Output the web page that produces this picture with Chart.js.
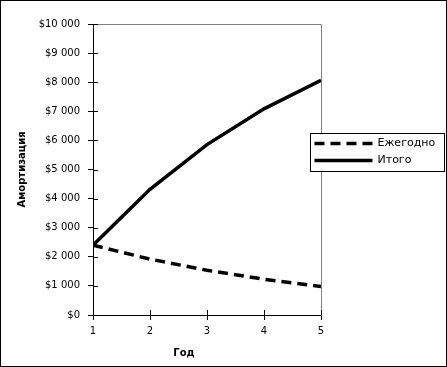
<!DOCTYPE html>
<html><head><meta charset="utf-8">
<script src="https://cdn.jsdelivr.net/npm/chart.js@4/dist/chart.umd.min.js"></script>
<style>html,body{margin:0;padding:0;background:#fff}</style></head>
<body><canvas id="c" width="447" height="367"></canvas>
<script>
const years = [1, 2, 3, 4, 5];
const annual = [2400, 1920, 1536, 1229, 983];
const total = [2400, 4320, 5856, 7085, 8068];
const seriesNames = ['Ежегодно', 'Итого'];
const yTitle = 'Амортизация';
const xTitle = 'Год';
const yMin = 0, yMax = 10000, yStep = 1000;

function money(v){ return '$' + String(v).replace(/\B(?=(\d{3})+(?!\d))/g, ' '); }

Chart.defaults.font.family = '"DejaVu Sans", Verdana, sans-serif';
Chart.defaults.font.size = 10;
Chart.defaults.color = '#000';

const frame = {
  id: 'frame',
  beforeDraw(chart){
    const c = chart.ctx; c.save(); c.fillStyle = '#fff'; c.fillRect(0,0,chart.width,chart.height); c.restore();
  },
  afterDraw(chart){
    const c = chart.ctx, a = chart.chartArea;
    const xs = chart.scales.x, ys = chart.scales.y;
    c.save();
    c.strokeStyle = '#808080'; c.lineWidth = 1;
    c.beginPath();
    c.moveTo(Math.round(a.left)+0.5, Math.round(a.top)+0.5);
    c.lineTo(Math.round(a.right)+0.5, Math.round(a.top)+0.5);
    c.lineTo(Math.round(a.right)+0.5, Math.round(a.bottom)+0.5);
    c.stroke();
    c.strokeStyle = '#000';
    c.beginPath();
    ys.ticks.forEach(t => { const y = Math.round(ys.getPixelForValue(t.value))+0.5; c.moveTo(a.left, y); c.lineTo(a.left+5, y); });
    xs.ticks.forEach(t => { const x = Math.round(xs.getPixelForValue(t.value))+0.5; c.moveTo(x, a.bottom); c.lineTo(x, a.bottom-5); });
    c.stroke();
    // axis titles
    c.fillStyle = '#000'; c.font = 'bold 10px "DejaVu Sans"'; c.textAlign = 'center'; c.textBaseline = 'middle';
    c.fillText(xTitle, 184, 353);
    c.save(); c.translate(22, (a.top + a.bottom)/2); c.rotate(-Math.PI/2); c.fillText(yTitle, 0, 0); c.restore();
    // legend box
    const lx = 310.5, ly = 133.5, lw = 134, lh = 38;
    c.fillStyle = '#fff'; c.fillRect(lx, ly, lw, lh);
    c.strokeStyle = '#000'; c.lineWidth = 1; c.strokeRect(lx, ly, lw, lh);
    chart.data.datasets.forEach((ds, i) => {
      const y = ly + 10 + i*17;
      c.strokeStyle = ds.borderColor; c.lineWidth = ds.borderWidth;
      c.setLineDash(ds.borderDash || []);
      c.beginPath(); c.moveTo(lx+4, y); c.lineTo(lx+62, y); c.stroke();
      c.setLineDash([]);
      c.fillStyle = '#000'; c.font = '11px "DejaVu Sans"'; c.textBaseline = 'middle'; c.textAlign = 'left';
      c.fillText(ds.label, lx+67, y);
    });
    c.strokeStyle = '#000'; c.lineWidth = 1;
    c.strokeRect(0.5, 0.5, chart.width-1, chart.height-1);
    c.restore();
  }
};

new Chart(document.getElementById('c'), {
  type: 'line',
  data: {
    datasets: [
      { label: seriesNames[0], data: years.map((x,i)=>({x, y: annual[i]})), borderColor: '#000', borderWidth: 3.5, borderDash: [10,6], pointRadius: 0, tension: 0, fill: false },
      { label: seriesNames[1], data: years.map((x,i)=>({x, y: total[i]})), borderColor: '#000', borderWidth: 3.5, pointRadius: 0, tension: 0, fill: false }
    ]
  },
  options: {
    responsive: false, animation: false, devicePixelRatio: 1,
    layout: { padding: { left: 0, top: 24, right: 126, bottom: 0 } },
    plugins: { legend: { display: false }, tooltip: { enabled: false } },
    scales: {
      x: {
        type: 'linear', min: 1, max: 5,
        ticks: { stepSize: 1, padding: 5, color: '#000', font: { size: 10 } },
        grid: { display: true, drawOnChartArea: false, tickLength: 5, color: '#000' },
        border: { display: true, color: '#000', width: 1 },
        afterFit(s){ s.height = 52; }
      },
      y: {
        min: yMin, max: yMax,
        ticks: { stepSize: yStep, padding: 8, color: '#000', font: { size: 10 }, callback: v => money(v) },
        grid: { display: true, drawOnChartArea: false, tickLength: 5, color: '#000' },
        border: { display: true, color: '#000', width: 1 },
        afterFit(s){ s.width = 93; }
      }
    }
  },
  plugins: [frame]
});
</script></body></html>
